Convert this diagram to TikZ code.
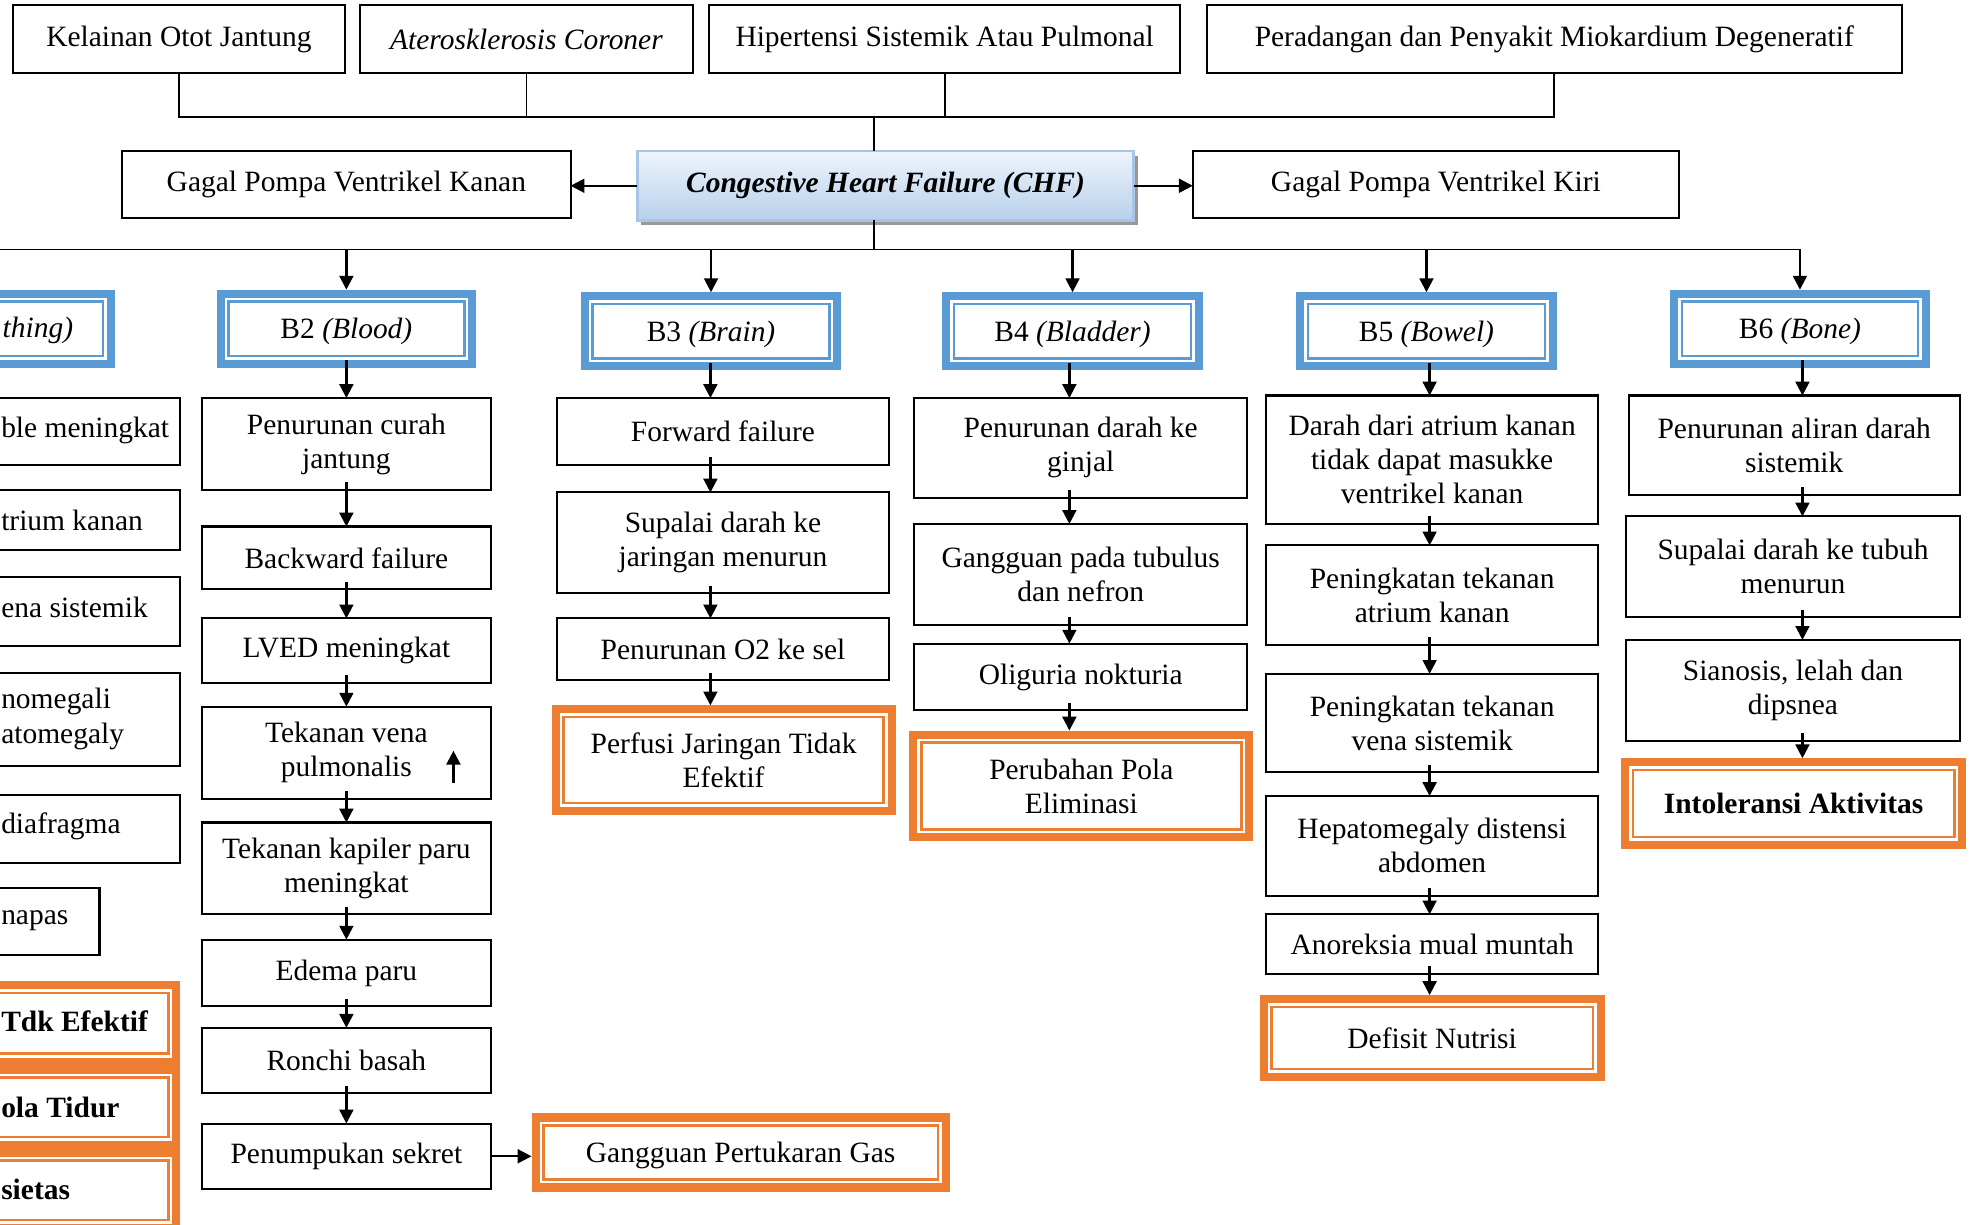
\documentclass[tikz,border=0pt]{standalone}
\usepackage{fontspec}
\setmainfont{Liberation Serif}
\usetikzlibrary{arrows.meta,shadows,calc}
\definecolor{hblue}{HTML}{5B9BD5}
\definecolor{dorange}{HTML}{ED7D31}
\definecolor{chftop}{HTML}{EEF4FB}
\definecolor{chfbot}{HTML}{B8D0EC}
\definecolor{chfline}{HTML}{A7C5E6}
\newcommand{\placebox}[7]{%
  \node[#1, minimum width={(#5-(#3))*0.5pt}, minimum height={(#6-(#4))*0.5pt}] (#2) at ({(#3+#5)/2},{(#4+#6)/2}) {#7};}
\newcommand{\dbl}[2]{%
  \draw[#2, line width=3.2pt] ($(#1.north west)+(3.2,3.2)$) rectangle ($(#1.south east)+(-3.2,-3.2)$);
  \draw[#2, line width=1pt] ($(#1.north west)+(9.4,9.4)$) rectangle ($(#1.south east)+(-9.4,-9.4)$);}
\newcommand{\colarr}[3]{\draw[arr] ($(#2.south -| #1)+(0,-6)$) -- (#3.north -| #1);}
\begin{document}
\begin{tikzpicture}[x=0.5pt,y=-0.5pt,
  txt/.style={font=\fontsize{11.7}{13.5}\selectfont, align=center, inner sep=0pt, outer sep=0pt},
  plain/.style={txt, draw=black, line width=0.8pt, fill=white},
  frame/.style={txt, text depth=0pt},
  chfbox/.style={txt, draw=chfline, line width=1pt, top color=chftop, bottom color=chfbot,
     drop shadow={shadow xshift=1.6pt, shadow yshift=-1.8pt, fill=black!40, opacity=1}},
  frag/.style={font=\fontsize{11.7}{13.5}\selectfont, inner sep=0pt, outer sep=0pt, anchor=west},
  conn/.style={line width=0.7pt},
  arr/.style={line width=0.9pt, -{Triangle[length=5.5pt,width=5.5pt]}},
]
\useasboundingbox (0,0) rectangle (1568,972);
\clip (0,0) rectangle (1568,972);
% ---------- top causes ----------
\placebox{plain}{kel}{10}{4}{274}{58}{Kelainan Otot Jantung}
\placebox{plain}{ate}{286}{4}{550}{58}{\textit{Aterosklerosis Coroner}}
\placebox{plain}{hip}{563}{4}{937}{58}{Hipertensi Sistemik Atau Pulmonal}
\placebox{plain}{per}{958}{4}{1510}{58}{Peradangan dan Penyakit Miokardium Degeneratif}
% ---------- second row ----------
\placebox{plain}{kan}{97}{120}{453}{173}{Gagal Pompa Ventrikel Kanan}
\placebox{chfbox}{chf}{506}{120}{900}{175}{\textbf{\textit{Congestive Heart Failure (CHF)}}}
\placebox{plain}{kir}{947}{120}{1333}{173}{Gagal Pompa Ventrikel Kiri}
% ---------- top connectors ----------
\coordinate (tb) at (694,93);
\draw[conn] (kel.south) |- (per.south |- tb) -- (per.south);
\draw[conn] (ate.south) -- (ate.south |- tb);
\draw[conn] (hip.south) -- (hip.south |- tb);
\draw[conn] (tb) -- (tb |- chf.north);
\draw[arr] (chf.west) -- (chf.west -| kan.east);
\draw[arr] (chf.east) -- (chf.east -| kir.west);
% ---------- headers ----------
\placebox{frame}{b1}{-115}{230}{91}{292}{}\dbl{b1}{hblue}
\node[frag, anchor=east] (b1t) at (58,262) {\textit{thing)}};
\placebox{frame}{b2}{172}{230}{378}{292}{B2 \textit{(Blood)}}\dbl{b2}{hblue}
\placebox{frame}{b3}{461}{232}{668}{294}{B3 \textit{(Brain)}}\dbl{b3}{hblue}
\placebox{frame}{b4}{748}{232}{955}{294}{B4 \textit{(Bladder)}}\dbl{b4}{hblue}
\placebox{frame}{b5}{1029}{232}{1236}{294}{B5 \textit{(Bowel)}}\dbl{b5}{hblue}
\placebox{frame}{b6}{1326}{230}{1532}{292}{B6 \textit{(Bone)}}\dbl{b6}{hblue}
% column axes
\coordinate (x1) at (-12,0);
\coordinate (x2) at (275,0);
\coordinate (x3) at (564,0);
\coordinate (x4) at (849,0);
\coordinate (x5) at (1135,0);
\coordinate (x6) at (1431,0);
% bus
\coordinate (bb) at (694,198);
\draw[conn] (bb |- chf.south) -- (bb);
\draw[conn] (b1.north |- bb) -- (b6.north |- bb);
\foreach \n in {b1,b2,b3,b4,b5,b6} {\draw[arr] (\n.north |- bb) -- (\n.north);}
% ---------- B1 column (cut off at the left edge) ----------
\placebox{plain}{a1}{-121}{316}{143}{369}{}
\node[frag] (a1t) at (1,342) {ble meningkat};
\placebox{plain}{a2}{-121}{389}{143}{437}{}
\node[frag] (a2t) at (1,413) {trium kanan};
\placebox{plain}{a3}{-121}{458}{143}{513}{}
\node[frag] (a3t) at (1,482) {ena sistemik};
\placebox{plain}{a4}{-121}{534}{143}{608}{}
\node[frag] (a4t) at (1,557) {nomegali};
\node[frag] (a4u) at (1,585) {atomegaly};
\placebox{plain}{a5}{-121}{631}{143}{685}{}
\node[frag] (a5t) at (1,656) {diafragma};
\placebox{plain}{a6}{-185}{705}{79}{758}{}
\node[frag] (a6t) at (1,731) {napas};
\placebox{frame}{o1}{-121}{779}{143}{846}{}\dbl{o1}{dorange}
\node[frag] (o1t) at (1,811) {\textbf{Tdk Efektif}};
\placebox{frame}{o2}{-121}{846}{143}{912}{}\dbl{o2}{dorange}
\node[frag] (o2t) at (1,879) {\textbf{ola Tidur}};
\placebox{frame}{o3}{-121}{912}{143}{978}{}\dbl{o3}{dorange}
\node[frag] (o3t) at (1,944) {\textbf{sietas}};
\colarr{x1}{b1}{a1}\colarr{x1}{a1}{a2}\colarr{x1}{a2}{a3}\colarr{x1}{a3}{a4}\colarr{x1}{a4}{a5}
% ---------- B2 column ----------
\placebox{plain}{c1}{160}{316}{390}{389}{Penurunan curah\\jantung}
\placebox{plain}{c2}{160}{418}{390}{468}{Backward failure}
\placebox{plain}{c3}{160}{491}{390}{542}{LVED meningkat}
\placebox{plain}{c4}{160}{561}{390}{634}{Tekanan vena\\pulmonalis}
\placebox{plain}{c5}{160}{653}{390}{726}{Tekanan kapiler paru\\meningkat}
\placebox{plain}{c6}{160}{746}{390}{799}{Edema paru}
\placebox{plain}{c7}{160}{816}{390}{868}{Ronchi basah}
\placebox{plain}{c8}{160}{892}{390}{944}{Penumpukan sekret}
\placebox{frame}{gpg}{422}{884}{754}{946}{Gangguan Pertukaran Gas}\dbl{gpg}{dorange}
\colarr{x2}{b2}{c1}\colarr{x2}{c1}{c2}\colarr{x2}{c2}{c3}\colarr{x2}{c3}{c4}
\colarr{x2}{c4}{c5}\colarr{x2}{c5}{c6}\colarr{x2}{c6}{c7}\colarr{x2}{c7}{c8}
\draw[arr] (c8.east) -- (c8.east -| gpg.west);
\coordinate (upa) at ($(c4.south)+(85,-12)$);
\coordinate (upb) at ($(c4.south)+(85,-38)$);
\draw[arr] (upa) -- (upb);
% ---------- B3 column ----------
\placebox{plain}{d1}{442}{316}{706}{369}{Forward failure}
\placebox{plain}{d2}{442}{391}{706}{471}{Supalai darah ke\\jaringan menurun}
\placebox{plain}{d3}{442}{491}{706}{540}{Penurunan O2 ke sel}
\placebox{frame}{pjt}{438}{560}{711}{647}{Perfusi Jaringan Tidak\\Efektif}\dbl{pjt}{dorange}
\colarr{x3}{b3}{d1}\colarr{x3}{d1}{d2}\colarr{x3}{d2}{d3}\colarr{x3}{d3}{pjt}
% ---------- B4 column ----------
\placebox{plain}{e1}{726}{316}{990}{395}{Penurunan darah ke\\ginjal}
\placebox{plain}{e2}{726}{416}{990}{496}{Gangguan pada tubulus\\dan nefron}
\placebox{plain}{e3}{726}{511}{990}{564}{Oliguria nokturia}
\placebox{frame}{ppe}{722}{580}{995}{668}{Perubahan Pola\\Eliminasi}\dbl{ppe}{dorange}
\colarr{x4}{b4}{e1}\colarr{x4}{e1}{e2}\colarr{x4}{e2}{e3}\colarr{x4}{e3}{ppe}
% ---------- B5 column ----------
\placebox{plain}{f1}{1005}{314}{1269}{416}{Darah dari atrium kanan\\tidak dapat masukke\\ventrikel kanan}
\placebox{plain}{f2}{1005}{433}{1269}{512}{Peningkatan tekanan\\atrium kanan}
\placebox{plain}{f3}{1005}{535}{1269}{613}{Peningkatan tekanan\\vena sistemik}
\placebox{plain}{f4}{1005}{632}{1269}{711}{Hepatomegaly distensi\\abdomen}
\placebox{plain}{f5}{1005}{726}{1269}{773}{Anoreksia mual muntah}
\placebox{frame}{dn}{1000}{790}{1274}{858}{Defisit Nutrisi}\dbl{dn}{dorange}
\colarr{x5}{b5}{f1}\colarr{x5}{f1}{f2}\colarr{x5}{f2}{f3}\colarr{x5}{f3}{f4}
\colarr{x5}{f4}{f5}\colarr{x5}{f5}{dn}
% ---------- B6 column ----------
\placebox{plain}{g1}{1293}{314}{1556}{393}{Penurunan aliran darah\\sistemik}
\placebox{plain}{g2}{1291}{410}{1556}{490}{Supalai darah ke tubuh\\menurun}
\placebox{plain}{g3}{1291}{508}{1556}{588}{Sianosis, lelah dan\\dipsnea}
\placebox{frame}{ia}{1287}{602}{1561}{674}{\textbf{Intoleransi Aktivitas}}\dbl{ia}{dorange}
\colarr{x6}{b6}{g1}\colarr{x6}{g1}{g2}\colarr{x6}{g2}{g3}\colarr{x6}{g3}{ia}
\end{tikzpicture}
\end{document}
